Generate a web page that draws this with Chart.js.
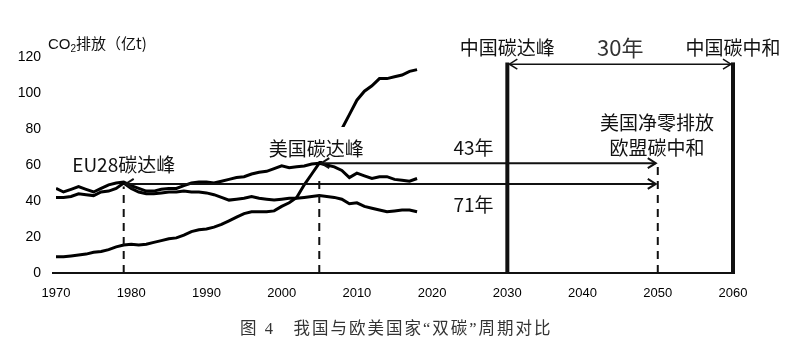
<!DOCTYPE html>
<html>
<head>
<meta charset="utf-8">
<script src="https://cdn.jsdelivr.net/npm/chart.js@4.4.1/dist/chart.umd.min.js"></script>
<style>
  html, body { margin: 0; padding: 0; background: #fff; }
  #wrap { position: relative; width: 800px; height: 340px; }
  #c { position: absolute; left: 0; top: 0; }
  #caption { position: absolute; left: 240px; top: 315px; font: 16.5px "Liberation Serif", "Noto Sans CJK SC", serif; letter-spacing: 2px; color: #333; white-space: pre; }
</style>
</head>
<body>
<div id="wrap">
  <canvas id="c" width="800" height="340"></canvas>
  <div id="caption">图 4　我国与欧美国家“双碳”周期对比</div>
</div>
<script>
// ---- data ----
const years = [1970,1971,1972,1973,1974,1975,1976,1977,1978,1979,
               1980,1981,1982,1983,1984,1985,1986,1987,1988,1989,
               1990,1991,1992,1993,1994,1995,1996,1997,1998,1999,
               2000,2001,2002,2003,2004,2005,2006,2007,2008,2009,
               2010,2011,2012,2013,2014,2015,2016,2017,2018];
const china = [9,9,9.5,10,10.5,11.5,12,13,14.5,15.5,
               16,15.5,16,17,18,19,19.5,21,23,24,
               24.5,25.5,27,29,31,33,34,34,34,34.5,
               37,39,42,49,55,61,67,74,80,88,
               96,101,104,108,108,109,110,112,113];
const usa = [47,45,46.5,48,46.5,45,47,49,50,50.5,
             48.5,47,45.5,45.5,46.5,47,47,48.5,50,50.5,
             50.5,50,51,52,53,53.5,55,56,56.5,58,
             59.5,58.5,59,59.5,60.5,61,60,59,57,53,
             55.5,54,52.5,53.5,53.5,52,51.5,51,52.5];
const eu28 = [42,42,42.5,44,43.5,43,45,45.5,47,50,
              47,45,44,44,44.5,45,45,45.5,45,45,
              44.5,43.5,42,40.5,41,41.5,42.5,41.5,41,40.5,
              41,41.5,41.5,42,42.5,43,42.5,42,41,38.5,
              39,37,36,35,34,34.5,35,35,34];
const yTicks = [0,20,40,60,80,100,120];
const xTicks = [1970,1980,1990,2000,2010,2020,2030,2040,2050,2060];

// milestones
const markerYears = [1979, 2005, 2030, 2050, 2060];
const markerTops  = [48, 53, 117, 59, 117];
const markerSolid = [false, false, true, false, true];
const spanFrom  = [2030, 2005, 1979];
const spanTo    = [2060, 2050, 2050];
const spanLevel = [116, 61, 49.5];

const toPts = arr => arr.map((v, i) => ({x: years[i], y: v}));

const CJK = '"Noto Sans CJK SC", sans-serif';

const annot = {
  id: 'annot',
  afterDatasetsDraw(chart) {
    const {ctx, scales: {x, y}} = chart;
    const px = v => x.getPixelForValue(v);
    const py = v => y.getPixelForValue(v);
    ctx.save();
    // white box behind US peak label
    ctx.fillStyle = '#fff';
    ctx.fillRect(266, 127, 102, 34);
    // axis line
    ctx.strokeStyle = '#111';
    ctx.lineWidth = 2;
    ctx.setLineDash([]);
    ctx.beginPath();
    ctx.moveTo(x.left - 4, py(0));
    ctx.lineTo(x.right + 2, py(0));
    ctx.stroke();
    // markers
    markerYears.forEach((yr, i) => {
      ctx.beginPath();
      if (markerSolid[i]) { ctx.lineWidth = 4; ctx.setLineDash([]); }
      else { ctx.lineWidth = 2; ctx.setLineDash([8, 6]); }
      ctx.moveTo(px(yr), py(0));
      ctx.lineTo(px(yr), py(markerTops[i]));
      ctx.stroke();
    });
    ctx.setLineDash([]);
    // spans with arrows
    const head = (xx, yy, dir) => {
      ctx.beginPath();
      ctx.moveTo(xx + dir * 8, yy - 5);
      ctx.lineTo(xx, yy);
      ctx.lineTo(xx + dir * 8, yy + 5);
      ctx.stroke();
    };
    spanFrom.forEach((a, i) => {
      const yy = py(spanLevel[i]);
      const x1 = px(a) + 2, x2 = px(spanTo[i]) - 2;
      ctx.lineWidth = i === 0 ? 1.5 : 2;
      ctx.beginPath();
      ctx.moveTo(x1, yy); ctx.lineTo(x2, yy); ctx.stroke();
      head(x1, yy, 1);
      head(x2, yy, -1);
    });
    // labels
    ctx.textAlign = 'center';
    ctx.textBaseline = 'middle';
    const lab = (t, xv, yv, size, color) => {
      ctx.font = size + 'px ' + CJK;
      ctx.fillStyle = color || '#111';
      ctx.fillText(t, px(xv), py(yv));
    };
    lab('中国碳达峰', 2030, 125, 19);
    lab('30年', 2045, 125, 22, '#333');
    lab('中国碳中和', 2060, 125, 19);
    lab('美国净零排放', 2049.9, 83.3, 19);
    lab('欧盟碳中和', 2049.9, 69.4, 19);
    lab('43年', 2025.5, 69.4, 19);
    lab('71年', 2025.5, 37.8, 19);
    lab('EU28碳达峰', 1979, 60, 19);
    lab('美国碳达峰', 2004.6, 68.9, 19);
    // y axis title
    ctx.textAlign = 'left';
    ctx.textBaseline = 'alphabetic';
    ctx.fillStyle = '#111';
    ctx.font = '15px "Liberation Sans", sans-serif';
    let tx = 48, ty = 49;
    ctx.fillText('CO', tx, ty);
    tx += ctx.measureText('CO').width;
    ctx.font = '10px "Liberation Sans", sans-serif';
    ctx.fillText('2', tx, ty + 3);
    tx += ctx.measureText('2').width;
    ctx.font = '15px ' + CJK;
    ctx.fillText('排放（亿t)', tx, ty);
    ctx.restore();
  }
};

const lineDs = (label, arr) => ({
  label, data: toPts(arr), borderColor: '#000', borderWidth: 3,
  pointRadius: 0, tension: 0, fill: false
});

new Chart(document.getElementById('c'), {
  type: 'line',
  data: { datasets: [lineDs('中国', china), lineDs('美国', usa), lineDs('EU28', eu28)] },
  options: {
    responsive: false,
    animation: false,
    devicePixelRatio: 1,
    layout: { padding: { top: 57, bottom: 40, left: 0, right: 67 } },
    plugins: { legend: { display: false }, tooltip: { enabled: false } },
    scales: {
      x: {
        type: 'linear', min: 1970, max: 2060,
        afterBuildTicks: s => { s.ticks = xTicks.map(v => ({value: v})); },
        afterFit: s => { s.height = 27; },
        grid: { display: false, drawTicks: false },
        border: { display: false },
        ticks: { padding: 13, color: '#000', font: { family: '"Liberation Sans", sans-serif', size: 13 }, callback: v => String(v), maxRotation: 0, autoSkip: false }
      },
      y: {
        min: 0, max: 120,
        afterBuildTicks: s => { s.ticks = yTicks.map(v => ({value: v})); },
        afterFit: s => { s.width = 56; },
        grid: { display: false, drawTicks: false },
        border: { display: false },
        ticks: { padding: 15, color: '#000', font: { family: '"Liberation Sans", sans-serif', size: 14 }, callback: v => String(v) }
      }
    }
  },
  plugins: [annot]
});
</script>
</body>
</html>
